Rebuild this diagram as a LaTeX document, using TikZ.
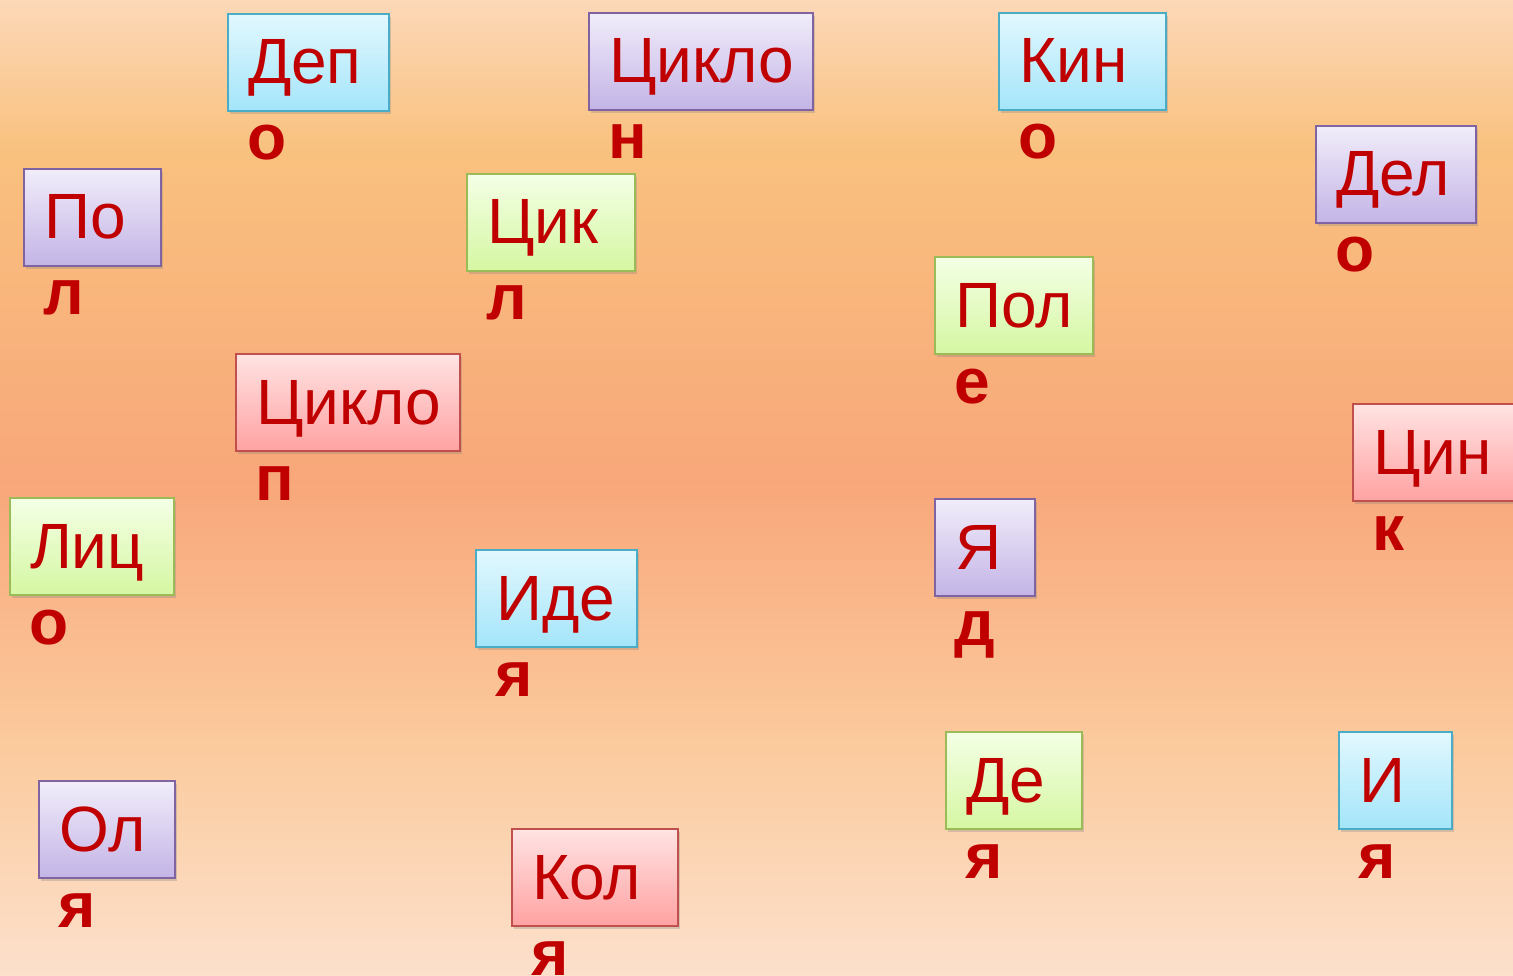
\documentclass[tikz,border=0pt]{standalone}
\usepackage{fontspec}
\setmainfont{Liberation Sans}
\usetikzlibrary{calc,shadows}
\definecolor{txt}{HTML}{C00000}
\definecolor{bg0}{HTML}{FCE0CC}
\definecolor{bg1}{HTML}{FBCB9E}
\definecolor{bg2}{HTML}{F8A77A}
\definecolor{bg3}{HTML}{F9C17E}
\definecolor{bg4}{HTML}{FCD8B8}
\definecolor{blueT}{HTML}{E2F8FE}
\definecolor{blueB}{HTML}{A4E5FA}
\definecolor{blueD}{HTML}{4BACC6}
\definecolor{purpleT}{HTML}{F1EDFA}
\definecolor{purpleB}{HTML}{C3B4E6}
\definecolor{purpleD}{HTML}{8064A2}
\definecolor{redT}{HTML}{FFE3E3}
\definecolor{redB}{HTML}{FFA2A2}
\definecolor{redD}{HTML}{C0504D}
\definecolor{greenT}{HTML}{F4FFE6}
\definecolor{greenB}{HTML}{D5F7A2}
\definecolor{greenD}{HTML}{9BBB59}
\pgfdeclareverticalshading{bgshade}{100bp}{color(0bp)=(bg0); color(25bp)=(bg0); color(36.6bp)=(bg1); color(50.4bp)=(bg2); color(67.3bp)=(bg3); color(75bp)=(bg4); color(100bp)=(bg4)}
\tikzset{
  box/.style={draw, line width=2pt, rectangle, anchor=north west,
    minimum height=97pt, text height=50pt, text depth=7pt,
    inner ysep=0pt, inner xsep=20pt, align=left,
    font=\fontsize{64}{70}\selectfont, text=txt,
    drop shadow={opacity=0.3, shadow xshift=2pt, shadow yshift=-3pt}},
  bluebox/.style={box, top color=blueT, bottom color=blueB, draw=blueD},
  purplebox/.style={box, top color=purpleT, bottom color=purpleB, draw=purpleD},
  redbox/.style={box, top color=redT, bottom color=redB, draw=redD},
  greenbox/.style={box, top color=greenT, bottom color=greenB, draw=greenD},
  letter/.style={anchor=base west, inner sep=0pt,
    font=\fontsize{64}{70}\selectfont\bfseries, text=txt},
}
\newcommand\wbox[7]{%
  \pgfmathsetmacro\bw{#5-#3-40}%
  \pgfmathsetmacro\mw{#5-#3}%
  \node[#2, text width=\bw pt, minimum width=\mw pt] (#1) at (#3,#4) {#6};
  \node[letter] (#1l) at ($(#1.south west)+(20,48)$) {#7};
}
\begin{document}
\begin{tikzpicture}[x=1pt,y=-1pt]
\useasboundingbox (0,0) rectangle (1513,976);
\clip (0,0) rectangle (1513,976);
\shade[shading=bgshade] (0,0) rectangle (1513,976);
\wbox{dep}{bluebox}{227}{13}{388}{Деп}{о}
\wbox{cycloa}{purplebox}{588}{12}{812}{Цикло}{н}
\wbox{kin}{bluebox}{998}{12}{1165}{Кин}{о}
\wbox{del}{purplebox}{1315}{125}{1475}{Дел}{о}
\wbox{po}{purplebox}{23}{168}{160}{По}{л}
\wbox{cik}{greenbox}{466}{173}{634}{Цик}{л}
\wbox{pol}{greenbox}{934}{256}{1092}{Пол}{е}
\wbox{cyclob}{redbox}{235}{353}{459}{Цикло}{п}
\wbox{cin}{redbox}{1352}{403}{1530}{Цин}{к}
\wbox{lic}{greenbox}{9}{497}{173}{Лиц}{о}
\wbox{ide}{bluebox}{475}{549}{636}{Иде}{я}
\wbox{ya}{purplebox}{934}{498}{1034}{Я}{д}
\wbox{de}{greenbox}{945}{731}{1081}{Де}{я}
\wbox{ii}{bluebox}{1338}{731}{1451}{И}{я}
\wbox{ol}{purplebox}{38}{780}{174}{Ол}{я}
\wbox{kol}{redbox}{511}{828}{677}{Кол}{я}
\end{tikzpicture}
\end{document}
